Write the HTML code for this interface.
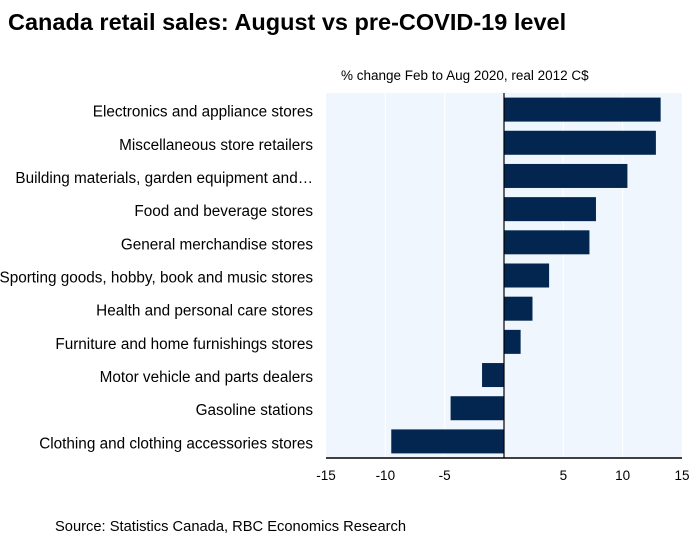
<!DOCTYPE html>
<html><head><meta charset="utf-8"><style>
body{margin:0;background:#fff;width:695px;height:540px;overflow:hidden;font-family:"Liberation Sans",sans-serif}
</style></head><body>
<svg width="695" height="540" xmlns="http://www.w3.org/2000/svg" font-family="Liberation Sans, sans-serif">
<text x="8" y="30" font-size="23.5" font-weight="bold" fill="#000">Canada retail sales: August vs pre-COVID-19 level</text>
<text x="341" y="80" font-size="13.5" fill="#000">% change Feb to Aug 2020, real 2012 C$</text>
<rect x="326" y="93" width="356" height="365" fill="#eff6fd"/>
<g id="grid"></g><g id="bars"></g><g id="labels"></g><g id="ticks"></g>
<line x1="326" y1="458" x2="682" y2="458" stroke="#000" stroke-width="1.5"/>
<text x="55" y="531" font-size="14.7" fill="#000">Source: Statistics Canada, RBC Economics Research</text>
</svg>
<script>
const categories=["Electronics and appliance stores","Miscellaneous store retailers","Building materials, garden equipment and…","Food and beverage stores","General merchandise stores","Sporting goods, hobby, book and music stores","Health and personal care stores","Furniture and home furnishings stores","Motor vehicle and parts dealers","Gasoline stations","Clothing and clothing accessories stores"];
const values=[13.2,12.8,10.4,7.75,7.2,3.8,2.4,1.4,-1.85,-4.5,-9.5];
const tickValues=[-15,-10,-5,5,10,15];
const tickLabels=["-15","-10","-5","5","10","15"];
const NS="http://www.w3.org/2000/svg";
const x0=326,x1=682,y0=93,y1=458,dmin=-15,dmax=15;
const xs=v=>x0+(v-dmin)/(dmax-dmin)*(x1-x0);
const band=(y1-y0)/categories.length;
const yc=i=>y0+band*(i+0.5);
function mk(tag,attrs,parent){const e=document.createElementNS(NS,tag);for(const k in attrs)e.setAttribute(k,attrs[k]);document.getElementById(parent).appendChild(e);return e;}
tickValues.forEach((t,i)=>{
  if(t>dmin&&t<dmax){const g=mk('line',{x1:xs(t),x2:xs(t),y1:y0,y2:y1,stroke:'#fff','stroke-width':1},'grid');
  
  }
  const tx=mk('text',{x:xs(t),y:480,'font-size':13.5,'text-anchor':'middle',fill:'#000'},'ticks');
  tx.textContent=tickLabels[i];
  
  
});
categories.forEach((c,i)=>{
  const v=values[i];const h=24;
  const r=mk('rect',{x:Math.min(xs(0),xs(v)),y:yc(i)-h/2,width:Math.abs(xs(v)-xs(0)),height:h,fill:'#02264f'},'bars');
  
  
  const t=mk('text',{x:313,y:yc(i)+7,'font-size':15.3,'text-anchor':'end',fill:'#000'},'labels');
  t.textContent=c;
  
  
});
const z=mk('line',{x1:xs(0),x2:xs(0),y1:y0,y2:y1,stroke:'#000','stroke-width':1.2},'ticks');


</script>
</body></html>
